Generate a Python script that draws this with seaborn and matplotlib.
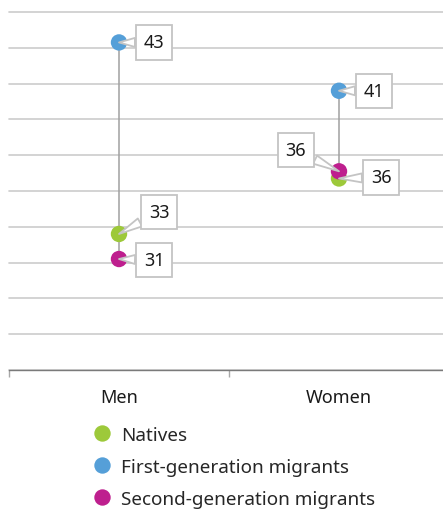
import matplotlib
matplotlib.use("Agg")
import matplotlib.pyplot as plt
from matplotlib.ticker import FixedLocator
import numpy as np
import pandas as pd
import seaborn as sns

# -----------------------------
# Data
# -----------------------------
categories = ["Men", "Women"]
groups = ["Natives", "First-generation migrants", "Second-generation migrants"]
natives = [32.6, 35.7]
first_gen = [43.3, 40.6]
second_gen = [31.2, 36.1]

colors = ["#9dc93a", "#559fd8", "#be1f8e"]

# label box offsets in pixels (per category, group)
label_offsets = {
    ("Men", "Natives"): (40, 22),
    ("Men", "First-generation migrants"): (35, 0),
    ("Men", "Second-generation migrants"): (35, -1),
    ("Women", "Natives"): (42, 1),
    ("Women", "First-generation migrants"): (35, 0),
    ("Women", "Second-generation migrants"): (-43, 21),
}

df = pd.DataFrame({
    "category": categories * 3,
    "group": np.repeat(groups, len(categories)),
    "value": natives + first_gen + second_gen,
})

# -----------------------------
# Figure
# -----------------------------
sns.set_style("white")
plt.rcParams["font.family"] = ["Noto Sans", "DejaVu Sans"]

W, H = 443, 510
fig = plt.figure(figsize=(W / 100, H / 100), dpi=100)
ax = fig.add_axes([9 / W, 139 / H, 440 / W, 358 / H])

# vertical range line per category
lo = df.groupby("category", sort=False)["value"].min()
hi = df.groupby("category", sort=False)["value"].max()
ax.vlines(np.arange(len(categories)), lo.values, hi.values,
          color="#a0a0a0", lw=1.1, zorder=2)

sns.stripplot(
    data=df, x="category", y="value", hue="group",
    order=categories, hue_order=groups, palette=colors,
    jitter=False, dodge=False, size=11.8, linewidth=0,
    ax=ax, zorder=3,
)

# data labels (callouts)
cat_pos = {c: i for i, c in enumerate(categories)}
for _, r in df.iterrows():
    dx, dy = label_offsets[(r["category"], r["group"])]
    ax.annotate(
        f"{r['value']:.0f}",
        xy=(cat_pos[r["category"]], r["value"]),
        xytext=(dx, dy), textcoords="offset pixels",
        ha="center", va="center", fontsize=13, color="#1a1a1a",
        bbox=dict(boxstyle="square,pad=0.45", fc="white", ec="#c4c4c4", lw=1.3),
        arrowprops=dict(arrowstyle="wedge,tail_width=0.5", fc="white",
                        ec="#c4c4c4", lw=1.3, shrinkA=0, shrinkB=0),
        zorder=4,
    )

# axes styling
ax.set_xlim(-0.5, 1.5)
ax.set_ylim(25, 45)
ax.yaxis.set_major_locator(FixedLocator(np.arange(25, 46, 2)))
ax.grid(axis="y", color="#cccccc", lw=1.2)
for gl in ax.get_ygridlines():
    gl.set_clip_on(False)
ax.set_axisbelow(True)
ax.set_yticklabels([])
ax.tick_params(axis="y", length=0)
for s in ["left", "right", "top"]:
    ax.spines[s].set_visible(False)
ax.spines["bottom"].set_color("#7a7a7a")
ax.spines["bottom"].set_linewidth(1.0)
ax.xaxis.set_minor_locator(FixedLocator([-0.5, 0.5, 1.5]))
ax.tick_params(axis="x", which="minor", bottom=True, length=5,
               color="#a8a8a8", width=1)
ax.tick_params(axis="x", which="major", length=0, pad=13, labelsize=13,
               labelcolor="#1a1a1a")
ax.set_xlabel("")
ax.set_ylabel("")

sns.move_legend(
    ax, "upper left", bbox_to_anchor=(93 / W, 83 / H),
    bbox_transform=fig.transFigure, frameon=False, title=None,
    fontsize=13.6, handlelength=1.0, handletextpad=0.5,
    labelspacing=0.74, borderpad=0, borderaxespad=0,
)

fig.savefig("out.png", dpi=100)
